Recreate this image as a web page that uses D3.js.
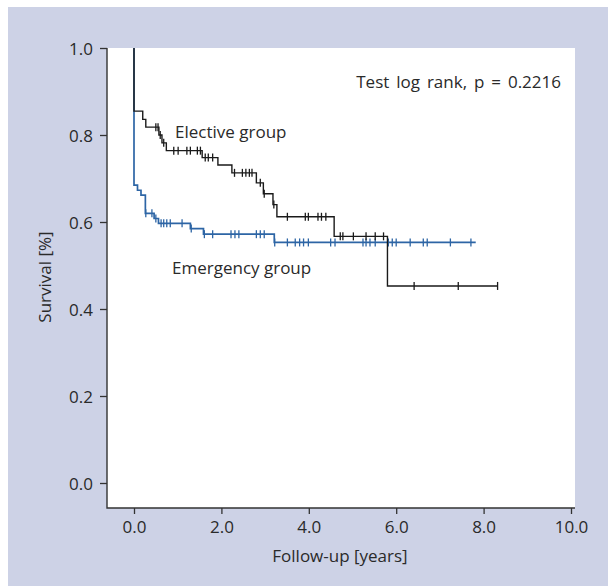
<!DOCTYPE html>
<html><head><meta charset="utf-8">
<script src="https://cdn.jsdelivr.net/npm/d3@7"></script>
<style>html,body{margin:0;padding:0;background:#fff;}svg{display:block;}</style>
</head><body>
<script>
const xTicks = [0, 2, 4, 6, 8, 10];
const yTicks = [0, 0.2, 0.4, 0.6, 0.8, 1.0];

// Elective group: step times and survival after each step
const electiveTimes = [0, 0.20, 0.27, 0.57, 0.64, 0.74, 1.56, 1.92, 2.24, 2.80, 2.96, 3.18, 3.27, 4.58, 5.80];
const electiveSurv  = [0.855, 0.836, 0.818, 0.800, 0.782, 0.764, 0.748, 0.731, 0.713, 0.690, 0.665, 0.640, 0.612, 0.567, 0.453];
const electiveCensor = [0.50, 0.55, 0.60, 0.68, 0.91, 1.01, 1.21, 1.29, 1.45, 1.52, 1.63, 1.70, 1.80,
  2.30, 2.48, 2.56, 2.64, 2.70, 2.89, 2.98, 3.20, 3.51, 3.92, 3.99, 4.21, 4.29, 4.39,
  4.72, 4.78, 5.02, 5.31, 5.52, 5.71, 6.41, 7.42, 8.32];
const electiveEnd = 8.32;

// Emergency group
const emergencyTimes = [0, 0.08, 0.16, 0.26, 0.46, 0.56, 1.29, 1.59, 3.21];
const emergencySurv  = [0.685, 0.673, 0.662, 0.620, 0.608, 0.597, 0.585, 0.572, 0.553];
const emergencyCensor = [0.27, 0.41, 0.50, 0.62, 0.68, 0.75, 0.83, 1.10, 1.31, 1.61, 1.80, 2.22, 2.31, 2.40,
  2.80, 2.89, 2.98, 3.22, 3.51, 3.69, 3.79, 3.88, 3.99, 4.50, 4.60, 5.24, 5.31, 5.40, 5.52,
  5.82, 5.91, 6.00, 6.32, 6.62, 6.71, 7.24, 7.71];
const emergencyEnd = 7.82;

(function () {
const W = 608, H = 586;
const FONT = "'Open Sans', 'Noto Sans', sans-serif";
const FS = 17;
const TXT = "#2a2a2a";

const svg = d3.select("body").append("svg").attr("width", W).attr("height", H);
svg.append("rect").attr("x", 8).attr("y", 7).attr("width", W - 8).attr("height", H - 7).attr("fill", "#cdd2e6");

const x = d3.scaleLinear().domain([0, 10]).range([134, 571]);
const y = d3.scaleLinear().domain([0, 1]).range([483, 48]);

const pL = 107, pR = 575, pT = 48, pB = 508;
svg.append("rect").attr("x", pL).attr("y", pT).attr("width", pR - pL).attr("height", pB - pT).attr("fill", "#fff");

const axisColor = "#333";
const gy = svg.append("g").attr("transform", `translate(${pL},0)`)
  .call(d3.axisLeft(y).tickValues(yTicks).tickFormat(d3.format(".1f")).tickSize(7).tickPadding(7));
const gx = svg.append("g").attr("transform", `translate(0,${pB})`)
  .call(d3.axisBottom(x).tickValues(xTicks).tickFormat(d3.format(".1f")).tickSize(6).tickPadding(6));
[gx, gy].forEach(g => {
  g.select(".domain").remove();
  g.selectAll(".tick line").attr("stroke", axisColor).attr("stroke-width", 1.3);
  g.selectAll(".tick text").attr("fill", TXT).attr("font-family", FONT).attr("font-size", FS);
});
gy.selectAll(".tick text").attr("dy", "0.36em");
gx.selectAll(".tick text").attr("dy", "0.74em");
svg.append("path").attr("d", `M${pL},${pT}V${pB}H${pR}`).attr("fill", "none")
  .attr("stroke", axisColor).attr("stroke-width", 1.4);

function drawKM(times, surv, censor, end, color, width) {
  const pts = [[0, 1]].concat(times.map((t, i) => [t, surv[i]])).concat([[end, surv[surv.length - 1]]]);
  const line = d3.line().x(d => x(d[0])).y(d => y(d[1])).curve(d3.curveStepAfter);
  svg.append("path").attr("d", line(pts)).attr("fill", "none").attr("stroke", color).attr("stroke-width", width);
  const sAt = c => { let s = 1; times.forEach((t, i) => { if (t <= c) s = surv[i]; }); return s; };
  svg.append("g").selectAll("line").data(censor).join("line")
    .attr("x1", d => x(d)).attr("x2", d => x(d))
    .attr("y1", d => y(sAt(d)) - 4).attr("y2", d => y(sAt(d)) + 4)
    .attr("stroke", color).attr("stroke-width", 1.3);
}
drawKM(emergencyTimes, emergencySurv, emergencyCensor, emergencyEnd, "#2d65a5", 1.7);
drawKM(electiveTimes, electiveSurv, electiveCensor, electiveEnd, "#1a1a1a", 1.4);

svg.append("text").attr("x", 561).attr("y", 88).attr("text-anchor", "end").attr("word-spacing", 2.5)
  .attr("font-family", FONT).attr("font-size", FS).attr("fill", TXT).text("Test log rank, p = 0.2216");
svg.append("text").attr("x", 175).attr("y", 138)
  .attr("font-family", FONT).attr("font-size", FS).attr("fill", TXT).text("Elective group");
svg.append("text").attr("x", 172).attr("y", 274)
  .attr("font-family", FONT).attr("font-size", FS).attr("fill", TXT).text("Emergency group");
svg.append("text").attr("x", 340).attr("y", 562).attr("text-anchor", "middle")
  .attr("font-family", FONT).attr("font-size", FS).attr("fill", TXT).text("Follow-up [years]");
svg.append("text").attr("transform", "translate(51,277) rotate(-90)").attr("text-anchor", "middle")
  .attr("font-family", FONT).attr("font-size", FS).attr("fill", TXT).text("Survival [%]");
})();
</script>
</body></html>
